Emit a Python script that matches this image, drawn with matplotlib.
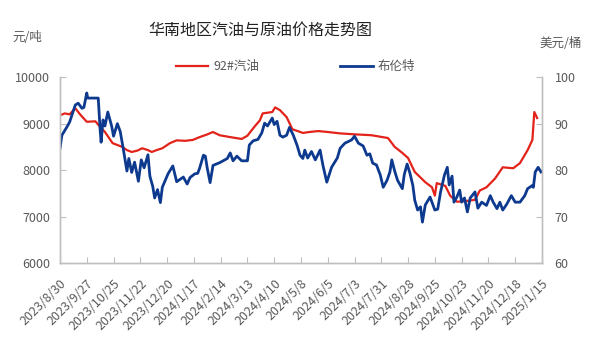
import pandas as pd
import matplotlib.pyplot as plt

plt.rcParams['font.family'] = ['Noto Sans CJK SC', 'DejaVu Sans']

# 92#汽油 (元/吨)
gas_dates = ["2023-08-30", "2023-09-04", "2023-09-09", "2023-09-15", "2023-09-20", "2023-09-27",
             "2023-10-06", "2023-10-11", "2023-10-16", "2023-10-24", "2023-11-03", "2023-11-08",
             "2023-11-13", "2023-11-19", "2023-11-24", "2023-11-30", "2023-12-04", "2023-12-09",
             "2023-12-15", "2023-12-23", "2023-12-30", "2024-01-08", "2024-01-16", "2024-01-23",
             "2024-01-30", "2024-02-06", "2024-02-13", "2024-02-24", "2024-03-07", "2024-03-13",
             "2024-03-16", "2024-03-21", "2024-03-26", "2024-03-29", "2024-04-08", "2024-04-11",
             "2024-04-16", "2024-04-23", "2024-04-29", "2024-05-10", "2024-05-17", "2024-05-26",
             "2024-06-05", "2024-06-18", "2024-07-03", "2024-07-21", "2024-08-07", "2024-08-14",
             "2024-08-22", "2024-08-28", "2024-09-04", "2024-09-15", "2024-09-22", "2024-09-25",
             "2024-09-27", "2024-10-06", "2024-10-11", "2024-10-18", "2024-10-26", "2024-11-06",
             "2024-11-11", "2024-11-18", "2024-11-27", "2024-12-05", "2024-12-16", "2024-12-23",
             "2024-12-31", "2025-01-05", "2025-01-07", "2025-01-10"]
gas_price = [9180, 9220, 9200, 9330, 9200, 9040,
             9050, 8930, 8820, 8580, 8500, 8430,
             8390, 8420, 8470, 8430, 8390, 8430,
             8470, 8580, 8640, 8630, 8650, 8710,
             8760, 8820, 8750, 8710, 8670, 8740,
             8820, 8950, 9070, 9220, 9250, 9350,
             9290, 9140, 8880, 8800, 8820, 8840,
             8820, 8790, 8770, 8750, 8690, 8500,
             8370, 8260, 7960, 7740, 7630, 7450,
             7720, 7660, 7450, 7320, 7330, 7360,
             7560, 7630, 7820, 8060, 8040, 8150,
             8430, 8650, 9250, 9120]

# 布伦特 (美元/桶)
brent_dates = ["2023-08-30", "2023-09-01", "2023-09-06", "2023-09-09", "2023-09-15", "2023-09-18",
               "2023-09-22", "2023-09-24", "2023-09-27", "2023-09-28", "2023-10-09", "2023-10-11",
               "2023-10-12", "2023-10-14", "2023-10-16", "2023-10-19", "2023-10-23", "2023-10-25",
               "2023-10-29", "2023-11-01", "2023-11-04", "2023-11-08", "2023-11-10", "2023-11-13",
               "2023-11-16", "2023-11-20", "2023-11-23", "2023-11-26", "2023-11-30", "2023-12-02",
               "2023-12-05", "2023-12-07", "2023-12-10", "2023-12-13", "2023-12-15", "2023-12-21",
               "2023-12-26", "2023-12-30", "2024-01-06", "2024-01-10", "2024-01-13", "2024-01-18",
               "2024-01-21", "2024-01-23", "2024-01-27", "2024-01-29", "2024-01-31", "2024-02-03",
               "2024-02-06", "2024-02-13", "2024-02-21", "2024-02-24", "2024-02-27", "2024-03-02",
               "2024-03-07", "2024-03-13", "2024-03-15", "2024-03-19", "2024-03-24", "2024-03-28",
               "2024-03-31", "2024-04-03", "2024-04-08", "2024-04-10", "2024-04-13", "2024-04-16",
               "2024-04-19", "2024-04-23", "2024-04-26", "2024-04-30", "2024-05-04", "2024-05-07",
               "2024-05-10", "2024-05-12", "2024-05-15", "2024-05-19", "2024-05-23", "2024-05-28",
               "2024-05-31", "2024-06-04", "2024-06-09", "2024-06-15", "2024-06-18", "2024-06-23",
               "2024-06-30", "2024-07-03", "2024-07-07", "2024-07-12", "2024-07-16", "2024-07-19",
               "2024-07-22", "2024-07-26", "2024-07-30", "2024-08-02", "2024-08-06", "2024-08-09",
               "2024-08-11", "2024-08-14", "2024-08-17", "2024-08-22", "2024-08-24", "2024-08-27",
               "2024-08-30", "2024-09-02", "2024-09-04", "2024-09-07", "2024-09-10", "2024-09-12",
               "2024-09-15", "2024-09-20", "2024-09-25", "2024-09-28", "2024-10-01", "2024-10-05",
               "2024-10-08", "2024-10-10", "2024-10-13", "2024-10-15", "2024-10-18", "2024-10-21",
               "2024-10-23", "2024-10-26", "2024-10-29", "2024-11-01", "2024-11-06", "2024-11-09",
               "2024-11-13", "2024-11-18", "2024-11-22", "2024-11-25", "2024-11-29", "2024-12-02",
               "2024-12-05", "2024-12-09", "2024-12-14", "2024-12-18", "2024-12-23", "2024-12-28",
               "2024-12-31", "2025-01-05", "2025-01-06", "2025-01-08", "2025-01-11", "2025-01-14"]
brent_price = [84.7, 87.5, 89.2, 90.3, 94.0, 94.4,
               93.3, 93.5, 96.6, 95.5, 95.5, 88.6,
               86.0, 90.8, 89.5, 92.5, 89.5, 87.3,
               90.0, 88.3, 84.8, 79.8, 82.5, 79.5,
               81.7, 77.6, 82.2, 80.5, 83.3, 78.7,
               76.5, 74.0, 75.8, 73.0, 76.3, 79.2,
               80.9, 77.5, 78.5, 77.0, 78.4, 79.2,
               79.3, 80.4, 83.2, 83.0, 80.4, 77.3,
               81.0, 81.6, 82.5, 83.7, 82.0, 83.0,
               82.0, 82.0, 85.4, 86.3, 86.6, 88.0,
               90.1, 89.5, 91.2, 89.8, 90.5, 87.5,
               87.1, 87.5, 89.2, 87.5, 85.3, 83.2,
               82.5, 84.3, 82.6, 84.0, 82.2, 84.3,
               81.0, 77.4, 80.6, 82.6, 84.7, 85.8,
               86.5, 87.3, 85.8, 85.2, 83.2, 83.5,
               81.5, 81.1, 78.9, 76.3, 77.8, 79.6,
               82.2, 79.8, 77.8, 76.0, 79.0, 81.3,
               79.3, 76.7, 73.5, 71.4, 72.1, 68.8,
               72.5, 74.2, 71.4, 71.6, 75.3, 78.9,
               80.6, 76.8, 78.7, 73.1, 74.2, 75.7,
               73.1, 74.0, 71.0, 74.0, 75.3, 71.8,
               73.1, 72.4, 74.5, 73.1, 71.7, 73.1,
               71.4, 72.6, 74.5, 73.1, 73.1, 74.5,
               76.0, 76.7, 76.3, 79.6, 80.6, 79.6]

tick_dates = pd.date_range("2023-08-30", "2025-01-15", freq="28D")

gray = '#595959'
axis_gray = '#BFBFBF'

fig = plt.figure(figsize=(5.91, 3.54), dpi=100)
ax = fig.add_axes([0.1015, 0.257, 0.8155, 0.525])
ax2 = ax.twinx()

l1, = ax.plot(pd.to_datetime(gas_dates), gas_price, color='#E3231A', lw=1.6, label='92#汽油')
l2, = ax2.plot(pd.to_datetime(brent_dates), brent_price, color='#0D3A8F', lw=2.0, label='布伦特')

ax.set_ylim(6000, 10000)
ax.set_yticks([6000, 7000, 8000, 9000, 10000])
ax2.set_ylim(60, 100)
ax2.set_yticks([60, 70, 80, 90, 100])
ax.set_xlim(tick_dates[0], tick_dates[-1])
ax.set_xticks(tick_dates)
ax.set_xticklabels([f"{d.year}/{d.month}/{d.day}" for d in tick_dates],
                   rotation=45, ha='right', rotation_mode='anchor')

for a in (ax, ax2):
    a.spines['top'].set_visible(False)
    for s in ('left', 'right', 'bottom'):
        a.spines[s].set_color(axis_gray)
        a.spines[s].set_linewidth(1.0)
    a.tick_params(colors=axis_gray, labelcolor=gray, labelsize=9, direction='in', length=4)
ax.tick_params(axis='y', pad=7)
ax2.tick_params(axis='y', pad=9)
ax.tick_params(axis='x', pad=10, labelsize=9)

fig.text(0.44, 0.915, '华南地区汽油与原油价格走势图', ha='center', va='center', fontsize=11.5, color='#222222')
fig.text(0.046, 0.893, '元/吨', ha='center', va='center', fontsize=9, color=gray)
fig.text(0.948, 0.876, '美元/桶', ha='center', va='center', fontsize=9, color=gray)

fig.legend(handles=[l1, l2], loc='center', bbox_to_anchor=(0.50, 0.812), ncol=2, frameon=False,
           fontsize=9, labelcolor=gray, handlelength=2.6, columnspacing=6.5, handletextpad=0.4)

fig.savefig("out.png", dpi=100)
